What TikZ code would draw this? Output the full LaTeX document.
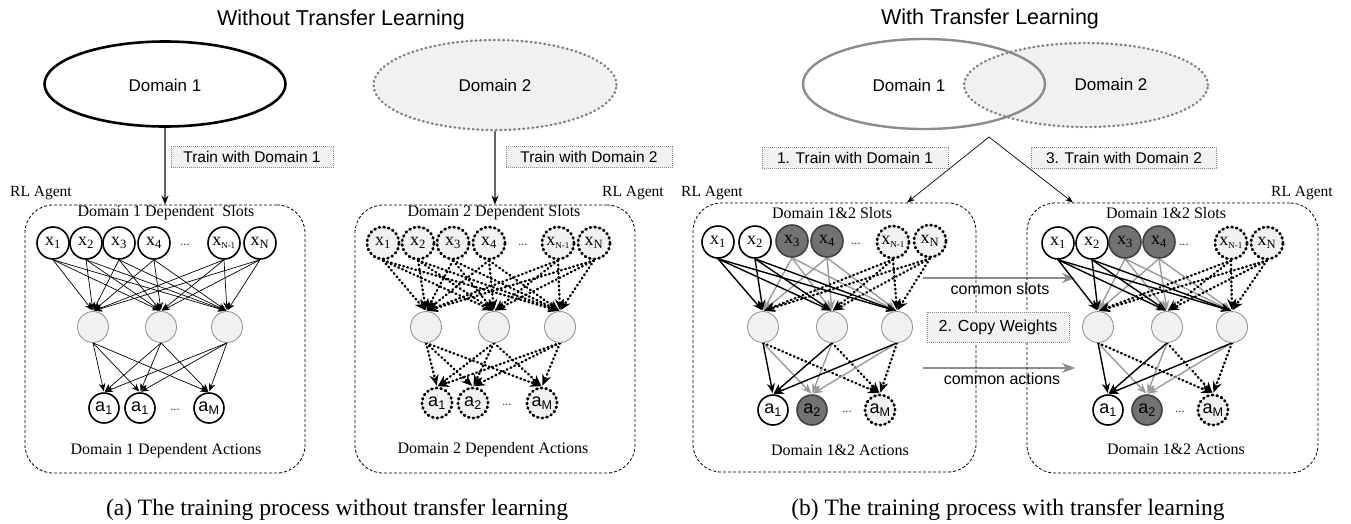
\documentclass[tikz,border=0pt]{standalone}
\usepackage{fontspec}
\setmainfont{Liberation Serif}
\setsansfont{Liberation Sans}
\usetikzlibrary{shapes.geometric,arrows.meta}
\pgfdeclarelayer{bg}
\pgfsetlayers{bg,main}
\definecolor{lightfill}{HTML}{F1F1F1}
\definecolor{darkfill}{HTML}{727272}
\definecolor{linegray}{HTML}{9A9A9A}
\newcommand{\sfpx}[1]{\sffamily\fontsize{#1}{#1}\selectfont}
\newcommand{\rmpx}[1]{\rmfamily\fontsize{#1}{#1}\selectfont}
\newcommand{\nsub}{\textsubscript{\fontsize{9}{9}\selectfont N-1}}
\tikzset{
  every node/.style={inner sep=0pt},
  slotold/.style={circle, draw, line width=1.6pt, fill=white, minimum size=32pt, font=\rmpx{18}},
  slotshared/.style={slotold, fill=darkfill, draw=black!75},
  slotnew/.style={slotold, fill=lightfill, line width=2.8pt, dash pattern=on 1pt off 3.7pt, line cap=round},
  actold/.style={circle, draw, line width=1.6pt, fill=white, minimum size=30pt, font=\sfpx{18}},
  actshared/.style={actold, fill=darkfill, draw=black!75},
  actnew/.style={actold, fill=lightfill, line width=2.8pt, dash pattern=on 1pt off 3.7pt, line cap=round},
  hidden/.style={circle, draw=black!45, line width=.8pt, fill=lightfill, minimum size=31pt},
  gap/.style={font=\sfpx{11}},
  agentbox/.style={draw, line width=.8pt, dash pattern=on 3pt off 2pt, rounded corners=28pt},
  slotlabel/.style={font=\rmpx{16}},
  agentname/.style={font=\rmpx{15.5}},
  trainbox/.style={draw=black!45, line width=.6pt, dash pattern=on 1pt off 1pt, fill=lightfill, font=\sfpx{15.5}, minimum height=21pt},
  bigtitle/.style={font=\sfpx{21.5}},
  subcaption/.style={font=\rmpx{23.5}},
  domtext/.style={font=\sfpx{17}},
  smalltext/.style={font=\sfpx{16}},
  dom1a/.style={ellipse, draw, line width=2.6pt, minimum width=241pt, minimum height=85pt},
  dom2a/.style={ellipse, draw=black!50, line width=2.4pt, dash pattern=on 0.8pt off 3.8pt, line cap=round, fill=lightfill, minimum width=243pt, minimum height=90pt},
  dom1b/.style={ellipse, draw=black!45, line width=2.4pt, minimum width=242pt, minimum height=90pt},
  thinarr/.style={-{Stealth[length=8pt,width=6.5pt]}, line width=.7pt, shorten >=1pt},
  solidarr/.style={-{Stealth[length=10pt,width=8pt]}, line width=1.4pt, shorten >=1pt},
  grayarr/.style={solidarr, draw=linegray},
  dotarr/.style={-{Stealth[length=11pt,width=9pt]}, line width=2.4pt, dash pattern=on 0.8pt off 3.4pt, line cap=round, shorten >=1pt},
  domarrow/.style={draw=black!60, line width=1.4pt, -{Stealth[length=9pt,width=7pt,black]}},
  splitarr/.style={line width=.7pt, -{Stealth[length=8pt,width=6pt]}},
  commonarr/.style={draw=black!45, line width=2.6pt, -{Stealth[length=13pt,width=10pt]}},
}
\begin{document}
\begin{tikzpicture}[x=1pt,y=-1pt]
        \useasboundingbox (0,0) rectangle (1351,523);
        \node (titlea) [bigtitle] at (341,20) {Without Transfer Learning};
        \node (titleb) [bigtitle] at (990,19) {With Transfer Learning};
        \node (lefta) [dom1a] at (165,84) {};
        \node (lefta text) [domtext] at (165,85) {Domain 1};
        \node (leftb) [dom2a] at (495,85) {};
        \node (leftb text) [domtext] at (495,85) {Domain 2};
        \node (rightb) [dom2a, minimum width=244pt, minimum height=84pt] at (1086,85) {};
        \node (righta) [dom1b] at (924,84) {};
        \node (righta text) [domtext] at (909,85) {Domain 1};
        \node (rightb text) [domtext] at (1111,84) {Domain 2};
        \node (traina) [trainbox, minimum width=162pt] at (252,157) {Train with Domain 1};
        \node (trainb) [trainbox, minimum width=166pt] at (589,157) {Train with Domain 2};
        \node (trainc) [trainbox, minimum width=186pt] at (855,158) {1. Train with Domain 1};
        \node (traind) [trainbox, minimum width=185pt] at (1124,158) {3. Train with Domain 2};
        \coordinate (split) at (989,137);
        \node (agenta) [agentbox, minimum width=280pt, minimum height=268pt] at (165,339) {};
        \node (agentb) [agentbox, minimum width=280pt, minimum height=268pt] at (495,339) {};
        \node (agentc) [agentbox, minimum width=283pt, minimum height=269pt] at (834.5,337.5) {};
        \node (agentd) [agentbox, minimum width=291pt, minimum height=270pt] at (1172.5,338) {};
        \node (namea) [agentname] at (41,193) {RL Agent};
        \node (nameb) [agentname] at (633,193) {RL Agent};
        \node (namec) [agentname] at (712,193) {RL Agent};
        \node (named) [agentname] at (1302,193) {RL Agent};
        \node (slotsa) [slotlabel] at (166,213) {Domain 1 Dependent\ \ Slots};
        \node (slotsb) [slotlabel] at (494,213) {Domain 2 Dependent Slots};
        \node (slotsc) [slotlabel] at (832,213) {Domain 1\&2 Slots};
        \node (slotsd) [slotlabel] at (1166,213) {Domain 1\&2 Slots};
        \node (actsa) [slotlabel] at (166,451) {Domain 1 Dependent Actions};
        \node (actsb) [slotlabel] at (493,450) {Domain 2 Dependent Actions};
        \node (actsc) [slotlabel] at (840,450) {Domain 1\&2 Actions};
        \node (actsd) [slotlabel] at (1176,449) {Domain 1\&2 Actions};
        \node (ax1) [slotold] at (53,243) {x\textsubscript{1}};
        \node (ax2) [slotold] at (86,243) {x\textsubscript{2}};
        \node (ax3) [slotold] at (119,243) {x\textsubscript{3}};
        \node (ax4) [slotold] at (154,243) {x\textsubscript{4}};
        \node (adots) [gap] at (185,245) {...};
        \node (axn1) [slotold] at (224,243) {x\nsub};
        \node (axn) [slotold] at (260,243) {x\textsubscript{N}};
        \node (ah1) [hidden] at (93,327) {};
        \node (ah2) [hidden] at (161,327) {};
        \node (ah3) [hidden] at (227,327) {};
        \node (aa1) [actold] at (104,408) {a\textsubscript{1}};
        \node (aa2) [actold] at (140,408) {a\textsubscript{1}};
        \node (aadots) [gap] at (175,410) {...};
        \node (aam) [actold] at (209,408) {a\textsubscript{M}};
        \node (bx1) [slotnew] at (383,243) {x\textsubscript{1}};
        \node (bx2) [slotnew] at (418,243) {x\textsubscript{2}};
        \node (bx3) [slotnew] at (453,243) {x\textsubscript{3}};
        \node (bx4) [slotnew] at (489,243) {x\textsubscript{4}};
        \node (bdots) [gap] at (523,245) {...};
        \node (bxn1) [slotnew] at (558,243) {x\nsub};
        \node (bxn) [slotnew] at (594,243) {x\textsubscript{N}};
        \node (bh1) [hidden] at (426,327) {};
        \node (bh2) [hidden] at (494,327) {};
        \node (bh3) [hidden] at (560,327) {};
        \node (ba1) [actnew] at (437,403) {a\textsubscript{1}};
        \node (ba2) [actnew] at (473,403) {a\textsubscript{2}};
        \node (badots) [gap] at (507,405) {...};
        \node (bam) [actnew] at (542,403) {a\textsubscript{M}};
        \node (cx1) [slotold] at (718,242) {x\textsubscript{1}};
        \node (cx2) [slotold] at (755,242) {x\textsubscript{2}};
        \node (cx3) [slotshared] at (792,241) {x\textsubscript{3}};
        \node (cx4) [slotshared] at (827,241) {x\textsubscript{4}};
        \node (cdots) [gap] at (856,244) {...};
        \node (cxn1) [slotnew] at (893,242) {x\nsub};
        \node (cxn) [slotnew] at (930,241) {x\textsubscript{N}};
        \node (ch1) [hidden] at (763,327) {};
        \node (ch2) [hidden] at (832,327) {};
        \node (ch3) [hidden] at (897,327) {};
        \node (ca1) [actold] at (773,410) {a\textsubscript{1}};
        \node (ca2) [actshared] at (812,410) {a\textsubscript{2}};
        \node (cadots) [gap] at (847,412) {...};
        \node (cam) [actnew] at (880,410) {a\textsubscript{M}};
        \node (dx1) [slotold] at (1058,243) {x\textsubscript{1}};
        \node (dx2) [slotold] at (1092,243) {x\textsubscript{2}};
        \node (dx3) [slotshared] at (1125,242) {x\textsubscript{3}};
        \node (dx4) [slotshared] at (1159,242) {x\textsubscript{4}};
        \node (ddots) [gap] at (1184,245) {...};
        \node (dxn1) [slotnew] at (1231,243) {x\nsub};
        \node (dxn) [slotnew] at (1267,243) {x\textsubscript{N}};
        \node (dh1) [hidden] at (1098,327) {};
        \node (dh2) [hidden] at (1167,327) {};
        \node (dh3) [hidden] at (1232,327) {};
        \node (da1) [actold] at (1108,410) {a\textsubscript{1}};
        \node (da2) [actshared] at (1147,410) {a\textsubscript{2}};
        \node (dadots) [gap] at (1180,412) {...};
        \node (dam) [actnew] at (1213,410) {a\textsubscript{M}};
        \coordinate (slotsfrom) at (923,278);
        \coordinate (slotsto) at (1075,278);
        \coordinate (actsfrom) at (923,368);
        \coordinate (actsto) at (1075,368);
        \node (slotsword) [smalltext] at (1000,289) {common slots};
        \node (copy) [trainbox, font=\sfpx{16}, minimum width=142pt, minimum height=30pt] at (998,327) {2. Copy Weights};
        \node (actsword) [smalltext] at (1002,379) {common actions};
        \node (capa) [subcaption] at (337,510) {(a) The training process without transfer learning};
        \node (capb) [subcaption] at (1008,510) {(b) The training process with transfer learning};
        \begin{pgfonlayer}{bg}
                \draw (lefta) edge [domarrow] (agenta.north);
                \draw (leftb) edge [domarrow] (agentb.north);
                \draw (split) edge [splitarr] ([xshift=72.5pt]agentc.north);
                \draw (split) edge [splitarr] ([xshift=-99.5pt]agentd.north);
                \draw (slotsfrom) edge [commonarr] (slotsto);
                \draw (actsfrom) edge [commonarr] (actsto);
                \draw (ax1.south) edge [thinarr] (ah1.north) edge [thinarr] (ah2.north) edge [thinarr] (ah3.north);
                \draw (ax2.south) edge [thinarr] (ah1.north) edge [thinarr] (ah2.north) edge [thinarr] (ah3.north);
                \draw (ax3.south) edge [thinarr] (ah1.north) edge [thinarr] (ah2.north) edge [thinarr] (ah3.north);
                \draw (ax4.south) edge [thinarr] (ah1.north) edge [thinarr] (ah2.north) edge [thinarr] (ah3.north);
                \draw (axn1.south) edge [thinarr] (ah1.north) edge [thinarr] (ah2.north) edge [thinarr] (ah3.north);
                \draw (axn.south) edge [thinarr] (ah1.north) edge [thinarr] (ah2.north) edge [thinarr] (ah3.north);
                \draw (ah1.south) edge [thinarr] (aa1.north) edge [thinarr] (aa2.north) edge [thinarr] (aam.north);
                \draw (ah2.south) edge [thinarr] (aa1.north) edge [thinarr] (aa2.north) edge [thinarr] (aam.north);
                \draw (ah3.south) edge [thinarr] (aa1.north) edge [thinarr] (aa2.north) edge [thinarr] (aam.north);
                \draw (bx1.south) edge [dotarr] (bh1.north) edge [dotarr] (bh2.north) edge [dotarr] (bh3.north);
                \draw (bx2.south) edge [dotarr] (bh1.north) edge [dotarr] (bh2.north) edge [dotarr] (bh3.north);
                \draw (bx3.south) edge [dotarr] (bh1.north) edge [dotarr] (bh2.north) edge [dotarr] (bh3.north);
                \draw (bx4.south) edge [dotarr] (bh1.north) edge [dotarr] (bh2.north) edge [dotarr] (bh3.north);
                \draw (bxn1.south) edge [dotarr] (bh1.north) edge [dotarr] (bh2.north) edge [dotarr] (bh3.north);
                \draw (bxn.south) edge [dotarr] (bh1.north) edge [dotarr] (bh2.north) edge [dotarr] (bh3.north);
                \draw (bh1.south) edge [dotarr] (ba1.north) edge [dotarr] (ba2.north) edge [dotarr] (bam.north);
                \draw (bh2.south) edge [dotarr] (ba1.north) edge [dotarr] (ba2.north) edge [dotarr] (bam.north);
                \draw (bh3.south) edge [dotarr] (ba1.north) edge [dotarr] (ba2.north) edge [dotarr] (bam.north);
                \draw (cx3.south) edge [grayarr] (ch1.north) edge [grayarr] (ch2.north) edge [grayarr] (ch3.north);
                \draw (cx4.south) edge [grayarr] (ch1.north) edge [grayarr] (ch2.north) edge [grayarr] (ch3.north);
                \draw (cx1.south) edge [solidarr] (ch1.north) edge [solidarr] (ch2.north) edge [solidarr] (ch3.north);
                \draw (cx2.south) edge [solidarr] (ch1.north) edge [solidarr] (ch2.north) edge [solidarr] (ch3.north);
                \draw (cxn1.south) edge [dotarr] (ch1.north) edge [dotarr] (ch2.north) edge [dotarr] (ch3.north);
                \draw (cxn.south) edge [dotarr] (ch1.north) edge [dotarr] (ch2.north) edge [dotarr] (ch3.north);
                \draw (ch1.south) edge [grayarr] (ca2.north) edge [solidarr] (ca1.north) edge [dotarr] (cam.north);
                \draw (ch2.south) edge [grayarr] (ca2.north) edge [solidarr] (ca1.north) edge [dotarr] (cam.north);
                \draw (ch3.south) edge [grayarr] (ca2.north) edge [solidarr] (ca1.north) edge [dotarr] (cam.north);
                \draw (dx3.south) edge [grayarr] (dh1.north) edge [grayarr] (dh2.north) edge [grayarr] (dh3.north);
                \draw (dx4.south) edge [grayarr] (dh1.north) edge [grayarr] (dh2.north) edge [grayarr] (dh3.north);
                \draw (dx1.south) edge [solidarr] (dh1.north) edge [solidarr] (dh2.north) edge [solidarr] (dh3.north);
                \draw (dx2.south) edge [solidarr] (dh1.north) edge [solidarr] (dh2.north) edge [solidarr] (dh3.north);
                \draw (dxn1.south) edge [dotarr] (dh1.north) edge [dotarr] (dh2.north) edge [dotarr] (dh3.north);
                \draw (dxn.south) edge [dotarr] (dh1.north) edge [dotarr] (dh2.north) edge [dotarr] (dh3.north);
                \draw (dh1.south) edge [grayarr] (da2.north) edge [solidarr] (da1.north) edge [dotarr] (dam.north);
                \draw (dh2.south) edge [grayarr] (da2.north) edge [solidarr] (da1.north) edge [dotarr] (dam.north);
                \draw (dh3.south) edge [grayarr] (da2.north) edge [solidarr] (da1.north) edge [dotarr] (dam.north);
        \end{pgfonlayer}
\end{tikzpicture}
\end{document}
